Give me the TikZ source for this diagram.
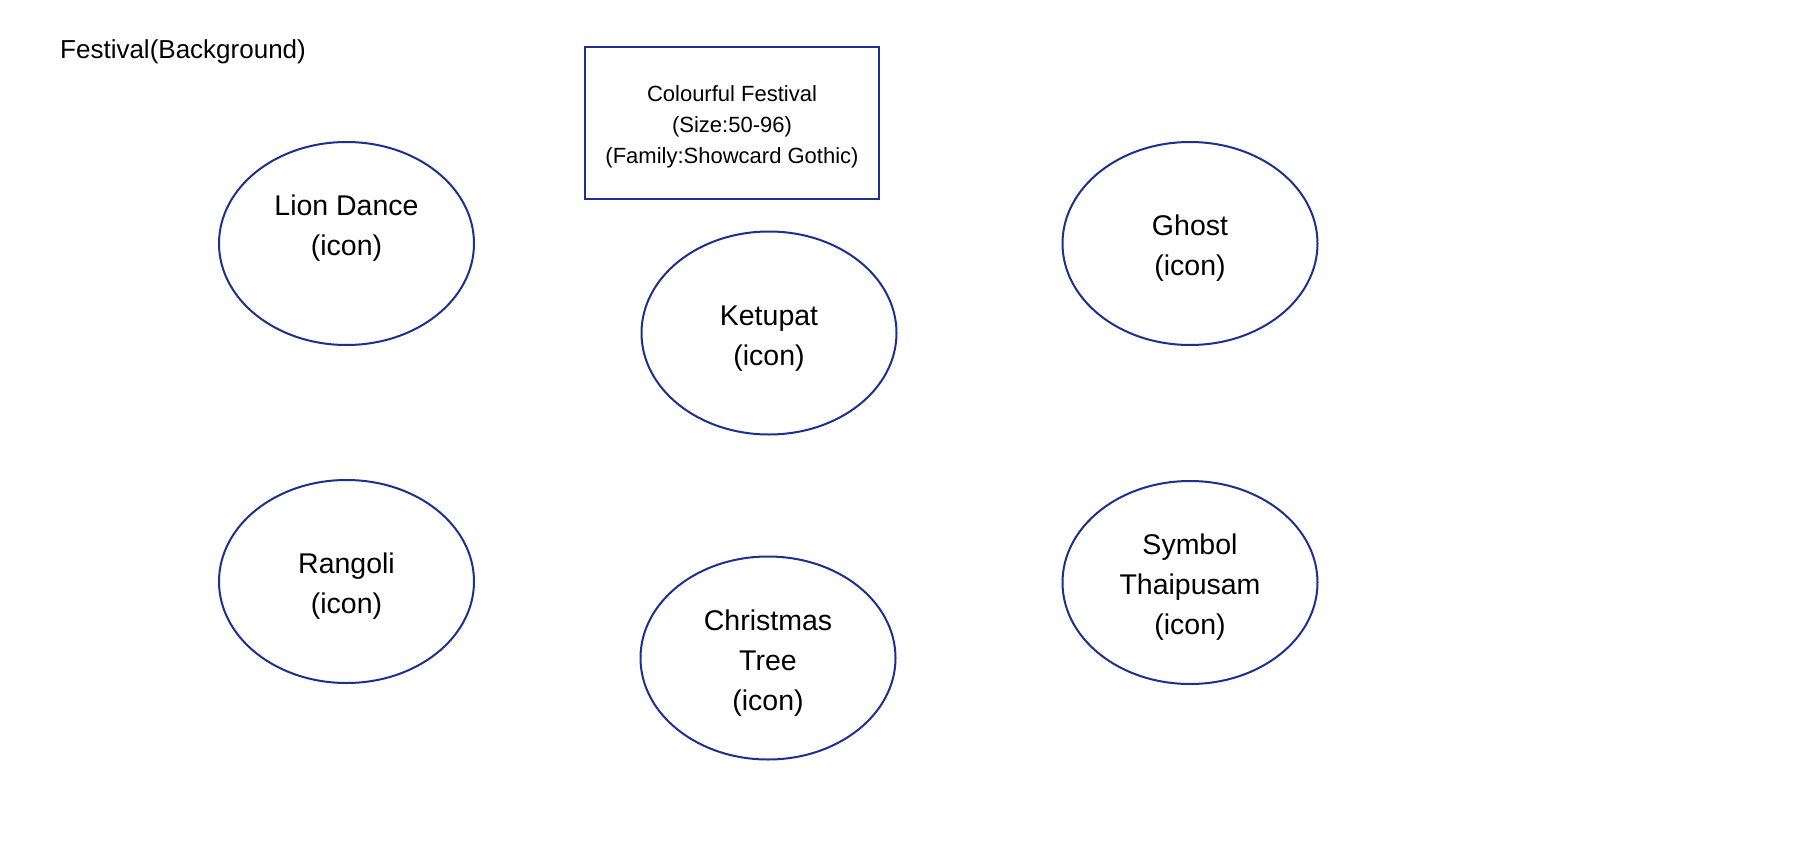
\documentclass[tikz,border=0pt]{standalone}
\usepackage{fontspec}
\setmainfont{Liberation Sans}
\usetikzlibrary{shapes.geometric}
\definecolor{navy}{RGB}{28,48,140}
\newcommand{\topfill}[1]{\rule{0pt}{#1}}
\tikzset{
  oval/.style={ellipse, draw=navy, line width=2pt, minimum width=255pt, minimum height=203pt, inner sep=0pt, align=center, font=\fontsize{28.5}{40}\selectfont},
  infobox/.style={rectangle, draw=navy, line width=2pt, minimum width=294pt, minimum height=152pt, inner sep=0pt, align=center, font=\fontsize{22}{31}\selectfont},
  plain/.style={inner sep=0pt, font=\fontsize{26}{31}\selectfont}
}
\begin{document}
\begin{tikzpicture}[x=1pt,y=-1pt]
\useasboundingbox[fill=white] (0,0) rectangle (1805,859);
\node[plain, anchor=west] (bg) at (60,51.5) {Festival(Background)};
\node[infobox] (title) at (732,123) {\topfill{23pt}Colourful Festival\\(Size:50-96)\\(Family:Showcard Gothic)};
\node[oval] (lion) at (346.5,243.5) {\topfill{23pt}Lion Dance\\(icon)\\\mbox{}};
\node[oval] (ketupat) at (769,333) {\topfill{30pt}Ketupat\\(icon)};
\node[oval] (ghost) at (1190,243.5) {\topfill{30pt}Ghost\\(icon)};
\node[oval] (rangoli) at (346.5,581.5) {\topfill{30pt}Rangoli\\(icon)};
\node[oval] (tree) at (768,658) {\topfill{30pt}Christmas\\Tree\\(icon)};
\node[oval] (thaipusam) at (1190,582.5) {\topfill{30pt}Symbol\\Thaipusam\\(icon)};
\end{tikzpicture}
\end{document}
